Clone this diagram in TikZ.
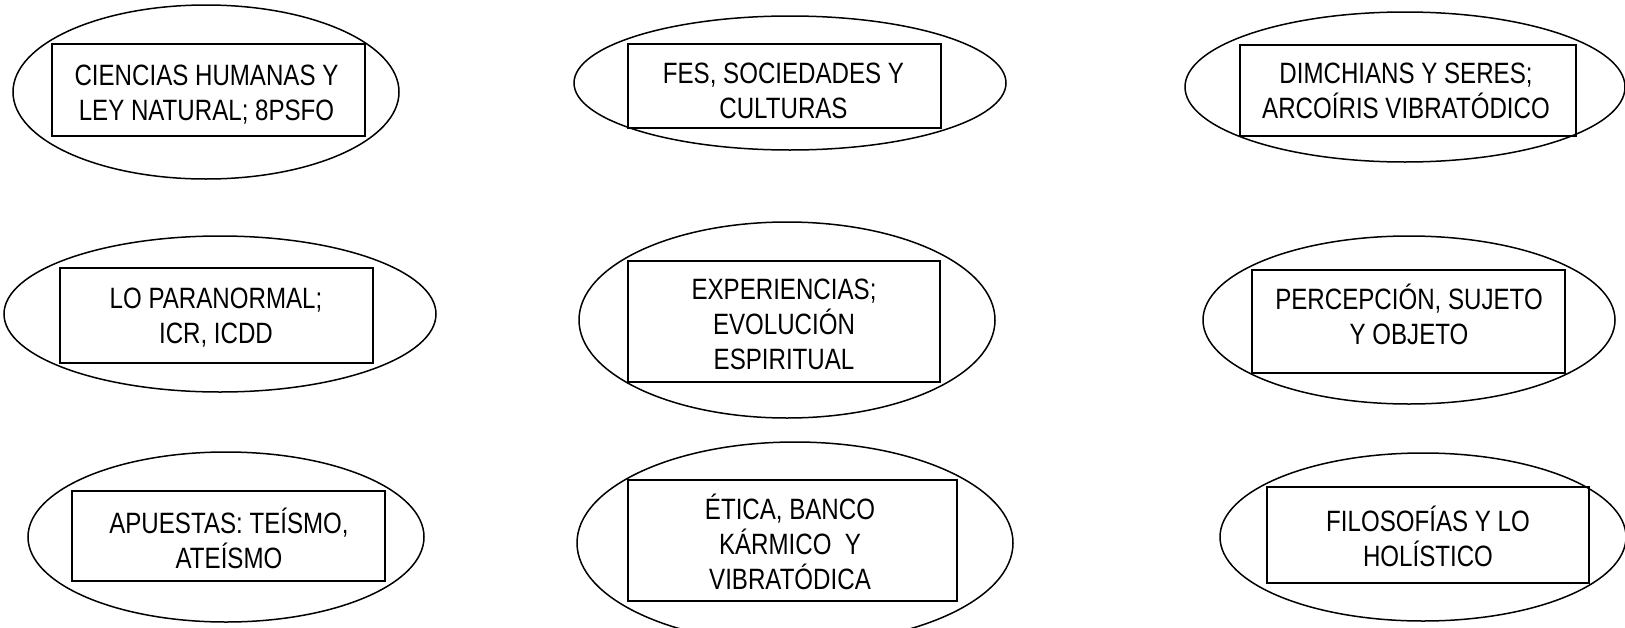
\documentclass[tikz,border=0pt]{standalone}
\usepackage{fontspec}
\setmainfont{Liberation Sans}[FakeStretch=0.82]
\usetikzlibrary{shapes.geometric}
\tikzset{
  oval/.style={draw, ellipse, line width=1.5pt, inner sep=0pt, outer sep=0pt},
  box/.style={draw, rectangle, line width=1.8pt, inner sep=0pt, outer sep=0pt},
  lbl/.style={align=center, inner sep=0pt, font=\fontsize{29.4}{35}\selectfont},
  two/.style={text height=56pt, text depth=0pt},
  three/.style={text height=91pt, text depth=0pt}
}
\begin{document}
\begin{tikzpicture}[x=1pt,y=-1pt]
\useasboundingbox (0,0) rectangle (1625,627);
\clip (0,0) rectangle (1625,627);
% ellipses
\node[oval, minimum width=386pt, minimum height=174pt] (e1) at (206,92) {};
\node[oval, minimum width=432pt, minimum height=134pt] (e2) at (790,83) {};
\node[oval, minimum width=440pt, minimum height=150pt] (e3) at (1405,87) {};
\node[oval, minimum width=432pt, minimum height=156pt] (e4) at (220,314) {};
\node[oval, minimum width=416pt, minimum height=196pt] (e5) at (787,320) {};
\node[oval, minimum width=412pt, minimum height=168pt] (e6) at (1409,320) {};
\node[oval, minimum width=396pt, minimum height=170pt] (e7) at (226,537) {};
\node[oval, minimum width=436pt, minimum height=202pt] (e8) at (795,543) {};
\node[oval, minimum width=406pt, minimum height=168pt] (e9) at (1423,537) {};
% boxes
\node[box, minimum width=313pt, minimum height=92pt] (b1) at (208.5,90) {};
\node[box, minimum width=313pt, minimum height=84pt] (b2) at (784.5,86) {};
\node[box, minimum width=336pt, minimum height=91pt] (b3) at (1408,90.5) {};
\node[box, minimum width=313pt, minimum height=95pt] (b4) at (216.5,315.5) {};
\node[box, minimum width=312pt, minimum height=121pt] (b5) at (784,321.5) {};
\node[box, minimum width=313pt, minimum height=103pt] (b6) at (1408.5,321.5) {};
\node[box, minimum width=313pt, minimum height=90pt] (b7) at (228.5,536) {};
\node[box, minimum width=329pt, minimum height=121pt] (b8) at (792.5,540.5) {};
\node[box, minimum width=322pt, minimum height=96pt] (b9) at (1428,535) {};
% labels
\node[lbl, two] (t1) at (206.5,92.5) {CIENCIAS HUMANAS Y\\LEY NATURAL; 8PSFO};
\node[lbl, two] (t2) at (783.5,90) {FES, SOCIEDADES Y\\CULTURAS};
\node[lbl, two] (t3) at (1406,90) {DIMCHIANS Y SERES;\\ARCOÍRIS VIBRATÓDICO};
\node[lbl, two] (t4) at (216,315.5) {LO PARANORMAL;\\ICR, ICDD};
\node[lbl, three] (t5) at (784,323.5) {EXPERIENCIAS;\\EVOLUCIÓN\\ESPIRITUAL};
\node[lbl, two] (t6) at (1409,316.5) {PERCEPCIÓN, SUJETO\\Y OBJETO};
\node[lbl, two] (t7) at (229,540.5) {APUESTAS: TEÍSMO,\\ATEÍSMO};
\node[lbl, three] (t8) at (790,543.5) {ÉTICA, BANCO\\KÁRMICO~ Y\\VIBRATÓDICA};
\node[lbl, two] (t9) at (1428,538.5) {FILOSOFÍAS Y LO\\HOLÍSTICO};
\end{tikzpicture}
\end{document}
